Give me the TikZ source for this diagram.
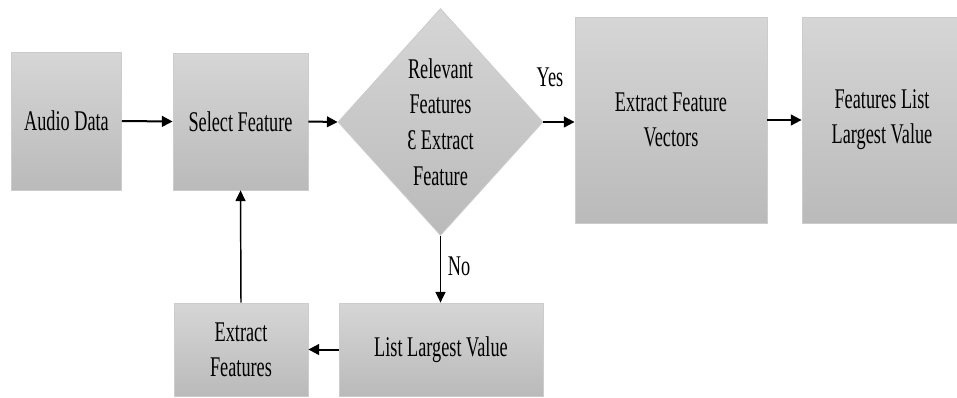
\documentclass[tikz,border=0pt]{standalone}
\usepackage{fontspec}
\setmainfont{Liberation Serif}[FakeStretch=0.64]
\usetikzlibrary{shapes.geometric,arrows.meta}
\definecolor{boxtop}{RGB}{214,214,214}
\definecolor{boxbot}{RGB}{186,186,186}
\definecolor{boxedge}{RGB}{204,204,204}
\tikzset{
  stepbox/.style={rectangle, draw=boxedge, line width=0.6pt,
    top color=boxtop, bottom color=boxbot, align=center,
    inner sep=2pt, font=\fontsize{21.4}{26.3}\selectfont},
  decision/.style={diamond, draw=boxedge, line width=0.6pt,
    top color=boxtop, bottom color=boxbot, align=center, aspect=0.9,
    inner sep=0pt, minimum width=153.75pt, minimum height=170.25pt,
    font=\fontsize{21.4}{26.8}\selectfont},
  flow/.style={-{Triangle[length=8pt,width=8pt]}, line width=1.5pt, black},
  flowthin/.style={-{Triangle[length=8pt,width=7.5pt]}, line width=1.1pt, black},
  tag/.style={font=\fontsize{21.4}{26.3}\selectfont, inner sep=0pt}
}
\begin{document}
\begin{tikzpicture}[x=0.75pt, y=-0.75pt]
  \useasboundingbox (0,0) rectangle (957,397);

  % main row
  \node[stepbox, minimum width=82.5pt, minimum height=103.5pt] (audio) at (66.5,121) {Audio Data};
  \node[stepbox, minimum width=101.25pt, minimum height=102.75pt] (select) at (240.5,121.5) {Select Feature};
  \node[decision] (rel) at (440.5,122) {Relevant\\Features\\Ɛ Extract\\Feature};
  \node[stepbox, minimum width=144pt, minimum height=154.5pt] (vectors) at (671,120) {Extract Feature\\Vectors};
  \node[stepbox, minimum width=120pt, minimum height=154.5pt] (featlist) at (882,120) {Features List\\Largest Value};

  % feedback row
  \node[stepbox, minimum width=100.5pt, minimum height=69.75pt] (extractf) at (241,349.5) {Extract\\Features};
  \node[stepbox, minimum width=153pt, minimum height=69.75pt] (listlv) at (441,349.5) {List Largest Value};

  % connectors
  \draw[flow] (audio.east) -- (select.west);
  \draw[flow] (select.east) -- (rel.west);
  \draw[flow] (rel.east) -- (rel.east -| vectors.west);
  \draw[flow] (vectors.east) -- (featlist.west);
  \draw[flowthin] (rel.south) -- (rel.south |- listlv.north);
  \draw[flow] (listlv.west) -- (extractf.east);
  \draw[flowthin] (extractf.north) -- (select.south);

  % branch labels
  \node[tag] (yes) at (550,77) {Yes};
  \node[tag] (no) at (459,266) {No};
\end{tikzpicture}
\end{document}
